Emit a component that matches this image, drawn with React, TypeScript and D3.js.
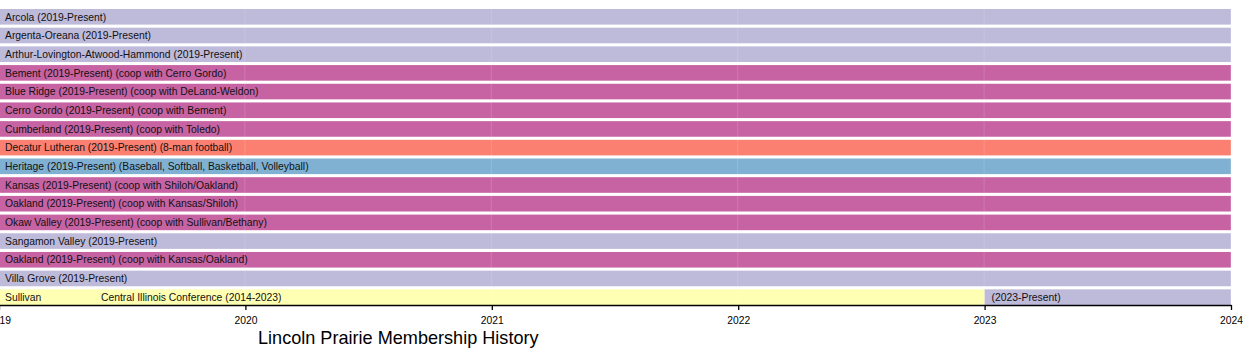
import React, { useEffect, useRef } from "react";
import * as d3 from "d3";

const rowLabels = [
  "Arcola (2019-Present)",
  "Argenta-Oreana (2019-Present)",
  "Arthur-Lovington-Atwood-Hammond (2019-Present)",
  "Bement (2019-Present) (coop with Cerro Gordo)",
  "Blue Ridge (2019-Present) (coop with DeLand-Weldon)",
  "Cerro Gordo (2019-Present) (coop with Bement)",
  "Cumberland (2019-Present) (coop with Toledo)",
  "Decatur Lutheran (2019-Present) (8-man football)",
  "Heritage (2019-Present) (Baseball, Softball, Basketball, Volleyball)",
  "Kansas (2019-Present) (coop with Shiloh/Oakland)",
  "Oakland (2019-Present) (coop with Kansas/Shiloh)",
  "Okaw Valley (2019-Present) (coop with Sullivan/Bethany)",
  "Sangamon Valley (2019-Present)",
  "Oakland (2019-Present) (coop with Kansas/Oakland)",
  "Villa Grove (2019-Present)",
  "Sullivan",
];

const rowKinds = [
  "member", "member", "member", "coop", "coop", "coop", "coop", "eightman",
  "partial", "coop", "coop", "coop", "member", "coop", "member", "other",
];

const rowStarts = [2019, 2019, 2019, 2019, 2019, 2019, 2019, 2019, 2019, 2019, 2019, 2019, 2019, 2019, 2019, 2019];
const rowEnds = [2024, 2024, 2024, 2024, 2024, 2024, 2024, 2024, 2024, 2024, 2024, 2024, 2024, 2024, 2024, 2023];

// extra segment on the Sullivan row
const extraRows = [15];
const extraStarts = [2023];
const extraEnds = [2024];
const extraKinds = ["member"];
const extraLabels = ["(2023-Present)"];

const sullivanPrevConf = "Central Illinois Conference (2014-2023)";

const years = [2019, 2020, 2021, 2022, 2023, 2024];
const title = "Lincoln Prairie Membership History";

const kindColors: Record<string, string> = {
  member: "#bebada",
  coop: "#c763a3",
  eightman: "#fb8072",
  partial: "#80b1d3",
  other: "#ffffb3",
};

const W = 1250;
const H = 355;
const FONT = "'Liberation Sans', Arial, Helvetica, sans-serif";

export default function App() {
  const ref = useRef<SVGSVGElement>(null);

  useEffect(() => {
    const svg = d3.select(ref.current);
    svg.selectAll("*").remove();

    const x = d3.scaleLinear().domain([2019, 2024]).range([-1, 1231]);
    const idx = rowLabels.map((_, i) => String(i));
    const y = d3
      .scaleBand<string>()
      .domain(idx)
      .range([9, 304.95])
      .paddingInner(0.165)
      .paddingOuter(0);
    const bw = y.bandwidth();

    // bars
    svg
      .append("g")
      .selectAll("rect")
      .data(rowLabels.map((l, i) => ({ i, s: rowStarts[i], e: rowEnds[i], k: rowKinds[i] })))
      .join("rect")
      .attr("x", (d) => x(d.s))
      .attr("y", (d) => y(String(d.i))!)
      .attr("width", (d) => x(d.e) - x(d.s))
      .attr("height", bw)
      .attr("fill", (d) => kindColors[d.k]);

    svg
      .append("g")
      .selectAll("rect")
      .data(extraRows.map((r, j) => ({ r, s: extraStarts[j], e: extraEnds[j], k: extraKinds[j] })))
      .join("rect")
      .attr("x", (d) => x(d.s))
      .attr("y", (d) => y(String(d.r))!)
      .attr("width", (d) => x(d.e) - x(d.s))
      .attr("height", bw)
      .attr("fill", (d) => kindColors[d.k]);

    // faint grid lines
    svg
      .append("g")
      .selectAll("line")
      .data(years.slice(1))
      .join("line")
      .attr("x1", (d) => x(d) - 0.5)
      .attr("x2", (d) => x(d) - 0.5)
      .attr("y1", 0)
      .attr("y2", 305)
      .attr("stroke", "#ffffff")
      .attr("stroke-opacity", 0.15)
      .attr("stroke-width", 1);

    // labels
    const lg = svg
      .append("g")
      .attr("font-family", FONT)
      .attr("font-size", 10.35)
      .attr("fill", "#111");
    lg.selectAll("text.row")
      .data(rowLabels.map((l, i) => ({ l, i })))
      .join("text")
      .attr("class", "row")
      .attr("x", 5)
      .attr("y", (d) => y(String(d.i))! + bw / 2 + 3.7)
      .text((d) => d.l);
    lg.append("text")
      .attr("x", 101)
      .attr("y", y("15")! + bw / 2 + 3.7)
      .text(sullivanPrevConf);
    lg.selectAll("text.extra")
      .data(extraRows.map((r, j) => ({ r, s: extraStarts[j], l: extraLabels[j] })))
      .join("text")
      .attr("class", "extra")
      .attr("x", (d) => x(d.s) + 7)
      .attr("y", (d) => y(String(d.r))! + bw / 2 + 3.7)
      .text((d) => d.l);

    // axis
    const axis = d3
      .axisBottom(x)
      .tickValues(years)
      .tickFormat(d3.format("d"))
      .tickSize(5)
      .tickSizeOuter(0)
      .tickPadding(6.5);
    const ag = svg.append("g").attr("transform", "translate(0,305)").call(axis);
    ag.select(".domain").attr("stroke", "#000").attr("stroke-width", 1.3);
    ag.selectAll(".tick line").attr("stroke", "#000").attr("stroke-width", 1.3);
    ag.selectAll(".tick text")
      .attr("font-family", FONT)
      .attr("font-size", 10.3)
      .attr("fill", "#000");

    // title
    svg
      .append("text")
      .attr("x", 258)
      .attr("y", 344)
      .attr("font-family", FONT)
      .attr("font-size", 18.1)
      .attr("fill", "#000")
      .text(title);
  }, []);

  return (
    <div style={{ position: "absolute", left: 0, top: 0 }}>
      <svg ref={ref} width={W} height={H} style={{ display: "block", background: "#fff" }} />
    </div>
  );
}
